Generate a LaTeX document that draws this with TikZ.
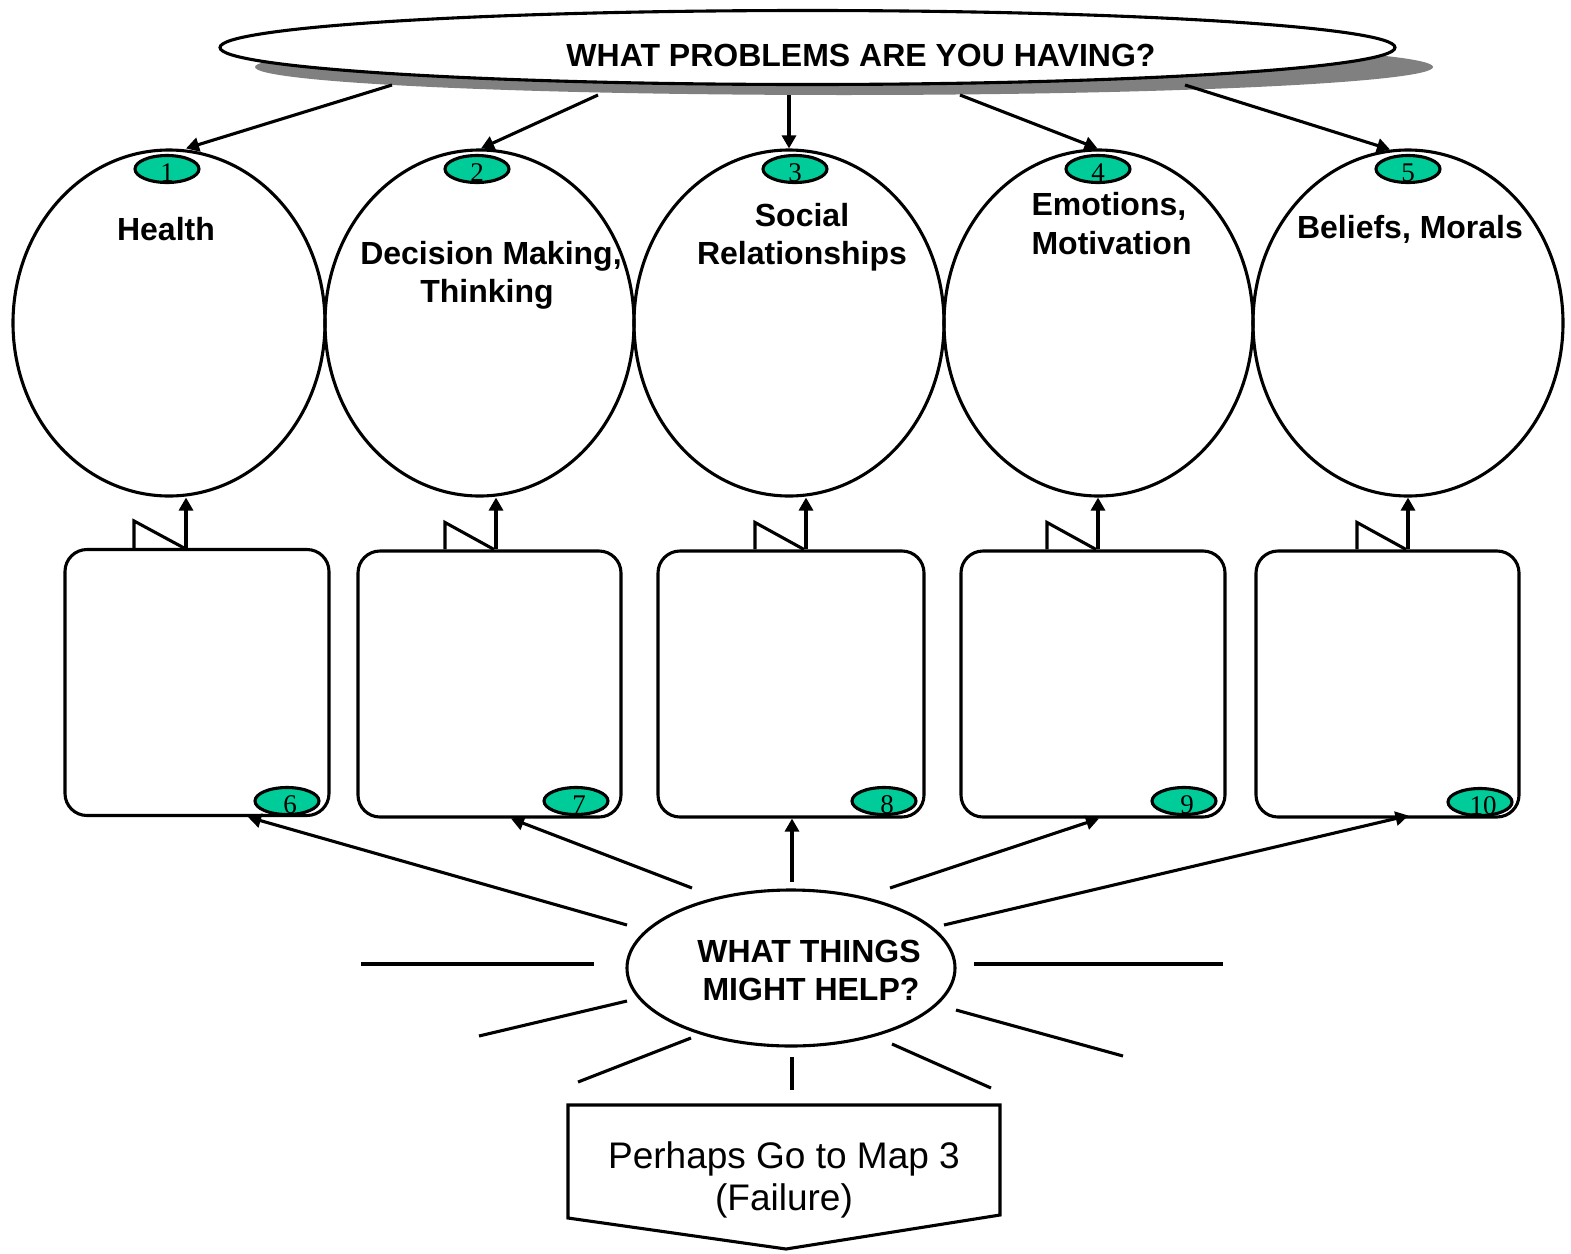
\documentclass[tikz,border=0pt]{standalone}
\usepackage{fontspec}
\setmainfont{Liberation Sans}
\newfontfamily\numfont{Liberation Serif}
\usetikzlibrary{arrows.meta,shapes.geometric}
\definecolor{tealnum}{RGB}{0,204,153}
\definecolor{shadowgray}{RGB}{128,128,128}
\begin{document}
\begin{tikzpicture}[x=1pt,y=-1pt, line width=3.1pt,
  arr/.style={-{Triangle[length=13pt,width=14pt]}},
  circ/.style={draw, ellipse, minimum height=346pt, inner sep=0pt},
  numoval/.style={draw, ellipse, fill=tealnum, minimum width=64pt, minimum height=27pt, inner sep=0pt},
  numtxt/.style={font=\numfont\fontsize{27}{27}\selectfont, anchor=base, inner sep=0pt},
  boxnode/.style={draw, rounded corners=22pt, minimum width=264pt, minimum height=266pt, inner sep=0pt},
  lbl/.style={font=\bfseries\fontsize{32}{38}\selectfont, anchor=base, inner sep=0pt},
  plain/.style={font=\fontsize{37}{43}\selectfont, anchor=base, inner sep=0pt}]
\useasboundingbox (0,0) rectangle (1571,1253);

% top ellipse with shadow
\node[ellipse, fill=shadowgray, minimum width=1178pt, minimum height=56pt, inner sep=0pt] (sh) at (844,67) {};
\node[ellipse, draw, fill=white, minimum width=1175pt, minimum height=74pt, inner sep=0pt] (te) at (807.5,47.5) {};
\node[lbl] (tt) at (861,66) {WHAT PROBLEMS ARE YOU HAVING?};

% circles
\node[circ, minimum width=312pt] (c1) at (169,323) {};
\node[circ, minimum width=309pt] (c2) at (479.5,323) {};
\node[circ, minimum width=310pt] (c3) at (789,323) {};
\node[circ, minimum width=309pt] (c4) at (1098.5,323) {};
\node[circ, minimum width=310pt] (c5) at (1408,323) {};

% circle labels
\node[lbl] (l1) at (166,240) {Health};
\node[lbl] (l2a) at (491,264) {Decision Making,};
\node[lbl] (l2b) at (487,302) {Thinking};
\node[lbl] (l3a) at (802,226) {Social};
\node[lbl] (l3b) at (802,264) {Relationships};
\node[lbl, anchor=base west] (l4a) at (1030,215) {Emotions,};
\node[lbl, anchor=base west] (l4b) at (1030,254) {Motivation};
\node[lbl] (l5) at (1410,238) {Beliefs, Morals};

% upper number ovals
\node[numoval] (o1) at (167,169) {};
\node[numoval] (o2) at (477,169) {};
\node[numoval] (o3) at (795,169) {};
\node[numoval] (o4) at (1098,169) {};
\node[numoval] (o5) at (1408,169) {};
\foreach \i in {1,...,5} {\node[numtxt] (n\i) at ([yshift=2.5pt]o\i.south) {\i};}

% arrows from top ellipse
\coordinate (s1) at (392,85);
\coordinate (s2) at (598,95);
\coordinate (s3) at (789,95);
\coordinate (s4) at (960,95);
\coordinate (s5) at (1185,85);
\draw[arr] (s1) -- ([xshift=17pt]c1.north);
\draw[arr] (s2) -- ([xshift=1.5pt]c2.north);
\draw[arr] (s3) -- (c3.north);
\draw[arr] (s4) -- ([xshift=-1pt]c4.north);
\draw[arr] (s5) -- ([xshift=-18pt,yshift=-1pt]c5.north);

% boxes
\node[boxnode] (b1) at (197,682.5) {};
\node[boxnode, minimum width=263pt] (b2) at (489.5,684) {};
\node[boxnode, minimum width=266pt] (b3) at (791,684) {};
\node[boxnode] (b4) at (1093,684) {};
\node[boxnode, minimum width=263pt] (b5) at (1387.5,684) {};

% lower number ovals
\node[numoval] (o6) at (287,801) {};
\node[numoval] (o7) at (576,801) {};
\node[numoval] (o8) at (884,801) {};
\node[numoval] (o9) at (1184,801) {};
\node[numoval] (o10) at (1480,802) {};
\foreach \i in {6,...,10} {\node[numtxt] (n\i) at ([xshift=3pt,yshift=2.5pt]o\i.south) {\i};}

% box -> circle connectors
\draw[arr] ([xshift=-11pt]b1.north) -- ([xshift=17pt]c1.south);
\draw ([xshift=-63pt]b1.north) -- ++(0,-27) -- ([xshift=-13pt]b1.north);
\draw[arr] ([xshift=6.5pt]b2.north) -- ([xshift=16.5pt]c2.south);
\draw ([xshift=-44.5pt]b2.north) -- ++(0,-27) -- ([xshift=4.5pt]b2.north);
\draw[arr] ([xshift=15pt]b3.north) -- ([xshift=17pt]c3.south);
\draw ([xshift=-36pt]b3.north) -- ++(0,-27) -- ([xshift=13pt]b3.north);
\draw[arr] ([xshift=5pt]b4.north) -- ([xshift=-0.5pt]c4.south);
\draw ([xshift=-46pt]b4.north) -- ++(0,-27) -- ([xshift=3pt]b4.north);
\draw[arr] ([xshift=20.5pt]b5.north) -- (c5.south);
\draw ([xshift=-30.5pt]b5.north) -- ++(0,-27) -- ([xshift=18.5pt]b5.north);

% bottom ellipse
\node[ellipse, draw, minimum width=328pt, minimum height=156pt, inner sep=0pt] (be) at (791,968) {};
\node[lbl] (bt1) at (809,962) {WHAT THINGS};
\node[lbl] (bt2) at (811,1000) {MIGHT HELP?};

% arrows from bottom ellipse to boxes
\coordinate (r1) at (627,925);
\coordinate (r2) at (692,888);
\coordinate (r3) at (792,882);
\coordinate (r4) at (890,888);
\coordinate (r5) at (944,925);
\draw[arr] (r1) -- ([xshift=51pt]b1.south);
\draw[arr] (r2) -- ([xshift=21.5pt]b2.south);
\draw[arr] (r3) -- ([xshift=1pt]b3.south);
\draw[arr] (r4) -- ([xshift=6pt]b4.south);
\draw[arr] (r5) -- ([xshift=21pt,yshift=3pt]b5.south);

% rays
\draw (361,964) -- (594,964);
\draw (974,964) -- (1223,964);
\draw (479,1036) -- (627,1001);
\draw (956,1010) -- (1123,1056);
\draw (578,1082) -- (691,1038);
\draw (892,1044) -- (991,1088);
\draw (792,1057) -- (792,1090);

% bottom pentagon
\draw (568,1105) -- (1000,1105) -- (1000,1215) -- (786,1249) -- (568,1218) -- cycle;
\node[plain] (p1) at (784,1168) {Perhaps Go to Map 3};
\node[plain] (p2) at (784,1210) {(Failure)};
\end{tikzpicture}
\end{document}
